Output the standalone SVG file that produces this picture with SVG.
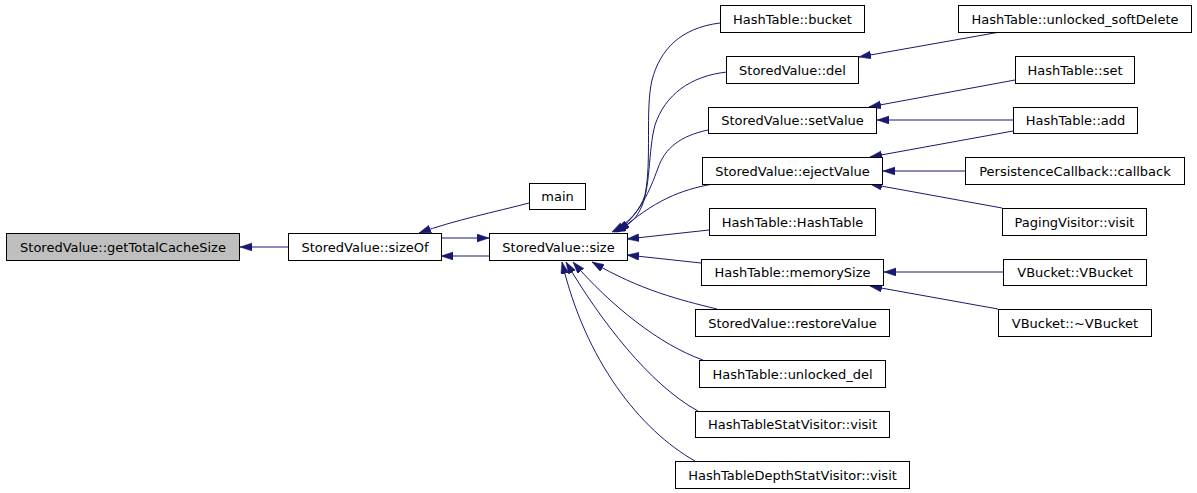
<svg xmlns="http://www.w3.org/2000/svg" width="1197" height="493" viewBox="0 0 1197 493">
<style>
  .n rect { fill: #ffffff; stroke: #000000; stroke-width: 1; }
  .n.root rect { fill: #bfbfbf; }
  .n text { font-family: "DejaVu Sans", sans-serif; font-size: 13px; fill: #000000; text-anchor: middle; }
  .e path { fill: none; stroke: #191970; stroke-width: 1; marker-end: url(#ah); }
</style>
<defs>
  <marker id="ah" markerUnits="userSpaceOnUse" markerWidth="13" markerHeight="10" refX="12" refY="4" orient="auto">
    <path d="M0,0 L12,4 L0,8 z" fill="#191970" stroke="#191970" stroke-width="0.5"/>
  </marker>
</defs>
<rect width="1197" height="493" fill="#ffffff"/>
<g id="edges" class="e">
  <path d="M288,247 L240,247"/>
  <path d="M441,238 L489,238"/>
  <path d="M489,256 L441,256"/>
  <path d="M529,203 C495,212 455,220 419,233"/>
  <path d="M720,23 C680,28 660,50 652,80 C645,110 652,160 645,195 C640,210 630,222 612,232"/>
  <path d="M727,72 C690,76 665,95 655,125 C648,150 651,190 640,210 C635,220 628,226 614,232"/>
  <path d="M708,130 C680,136 665,148 658,168 C650,190 640,215 616,232"/>
  <path d="M713,184 C680,190 655,200 618,232"/>
  <path d="M709,230 L627,239"/>
  <path d="M701,263 L627,255"/>
  <path d="M717,309 C680,300 640,290 592,262"/>
  <path d="M703,360 C660,345 610,305 573,262"/>
  <path d="M698,411 C650,385 600,320 566,262"/>
  <path d="M695,461 C640,430 585,360 562,262"/>
  <path d="M1000,32 L859,57"/>
  <path d="M1015,80 L869,107"/>
  <path d="M1013,120 L877,120"/>
  <path d="M1013,131 L870,157"/>
  <path d="M965,171 L883,171"/>
  <path d="M1002,208 L870,184"/>
  <path d="M1003,272 L884,272"/>
  <path d="M998,309 L870,286"/>
</g>
<g id="n_getTotalCacheSize" class="n root"><rect x="6.5" y="233.5" width="233" height="27"/><text x="123" y="251.5">StoredValue::getTotalCacheSize</text></g>
<g id="n_sizeOf" class="n"><rect x="288.5" y="233.5" width="153" height="27"/><text x="365" y="251.5">StoredValue::sizeOf</text></g>
<g id="n_main" class="n"><rect x="529.5" y="183.5" width="56" height="26"/><text x="557.5" y="201">main</text></g>
<g id="n_size" class="n"><rect x="489.5" y="233.5" width="138" height="27"/><text x="558.5" y="251.5">StoredValue::size</text></g>
<g id="n_bucket" class="n"><rect x="720.5" y="5.5" width="144" height="27"/><text x="792.5" y="23.5">HashTable::bucket</text></g>
<g id="n_del" class="n"><rect x="726.5" y="56.5" width="132" height="27"/><text x="792.5" y="74.5">StoredValue::del</text></g>
<g id="n_setValue" class="n"><rect x="708.5" y="107.5" width="168" height="26"/><text x="792.5" y="125">StoredValue::setValue</text></g>
<g id="n_ejectValue" class="n"><rect x="702.5" y="157.5" width="180" height="27"/><text x="792.5" y="175.5">StoredValue::ejectValue</text></g>
<g id="n_HashTable" class="n"><rect x="709.5" y="208.5" width="166" height="27"/><text x="792.5" y="226.5">HashTable::HashTable</text></g>
<g id="n_memorySize" class="n"><rect x="701.5" y="259.5" width="182" height="26"/><text x="792.5" y="277">HashTable::memorySize</text></g>
<g id="n_restoreValue" class="n"><rect x="695.5" y="309.5" width="194" height="27"/><text x="792.5" y="327.5">StoredValue::restoreValue</text></g>
<g id="n_unlocked_del" class="n"><rect x="699.5" y="360.5" width="186" height="27"/><text x="792.5" y="378.5">HashTable::unlocked_del</text></g>
<g id="n_HashTableStatVisitor" class="n"><rect x="695.5" y="411.5" width="194" height="26"/><text x="792.5" y="429">HashTableStatVisitor::visit</text></g>
<g id="n_HashTableDepthStatVisitor" class="n"><rect x="675.5" y="461.5" width="234" height="27"/><text x="792.5" y="479.5">HashTableDepthStatVisitor::visit</text></g>
<g id="n_unlocked_softDelete" class="n"><rect x="958.5" y="5.5" width="233" height="27"/><text x="1075" y="23.5">HashTable::unlocked_softDelete</text></g>
<g id="n_set" class="n"><rect x="1015.5" y="56.5" width="119" height="27"/><text x="1075" y="74.5">HashTable::set</text></g>
<g id="n_add" class="n"><rect x="1013.5" y="107.5" width="124" height="26"/><text x="1075.5" y="125">HashTable::add</text></g>
<g id="n_callback" class="n"><rect x="965.5" y="157.5" width="219" height="27"/><text x="1075" y="175.5">PersistenceCallback::callback</text></g>
<g id="n_PagingVisitor" class="n"><rect x="1002.5" y="208.5" width="144" height="27"/><text x="1074.5" y="226.5">PagingVisitor::visit</text></g>
<g id="n_VBucket" class="n"><rect x="1003.5" y="259.5" width="143" height="26"/><text x="1075" y="277">VBucket::VBucket</text></g>
<g id="n_VBucketDtor" class="n"><rect x="998.5" y="309.5" width="153" height="27"/><text x="1075" y="327.5">VBucket::~VBucket</text></g>
</svg>
